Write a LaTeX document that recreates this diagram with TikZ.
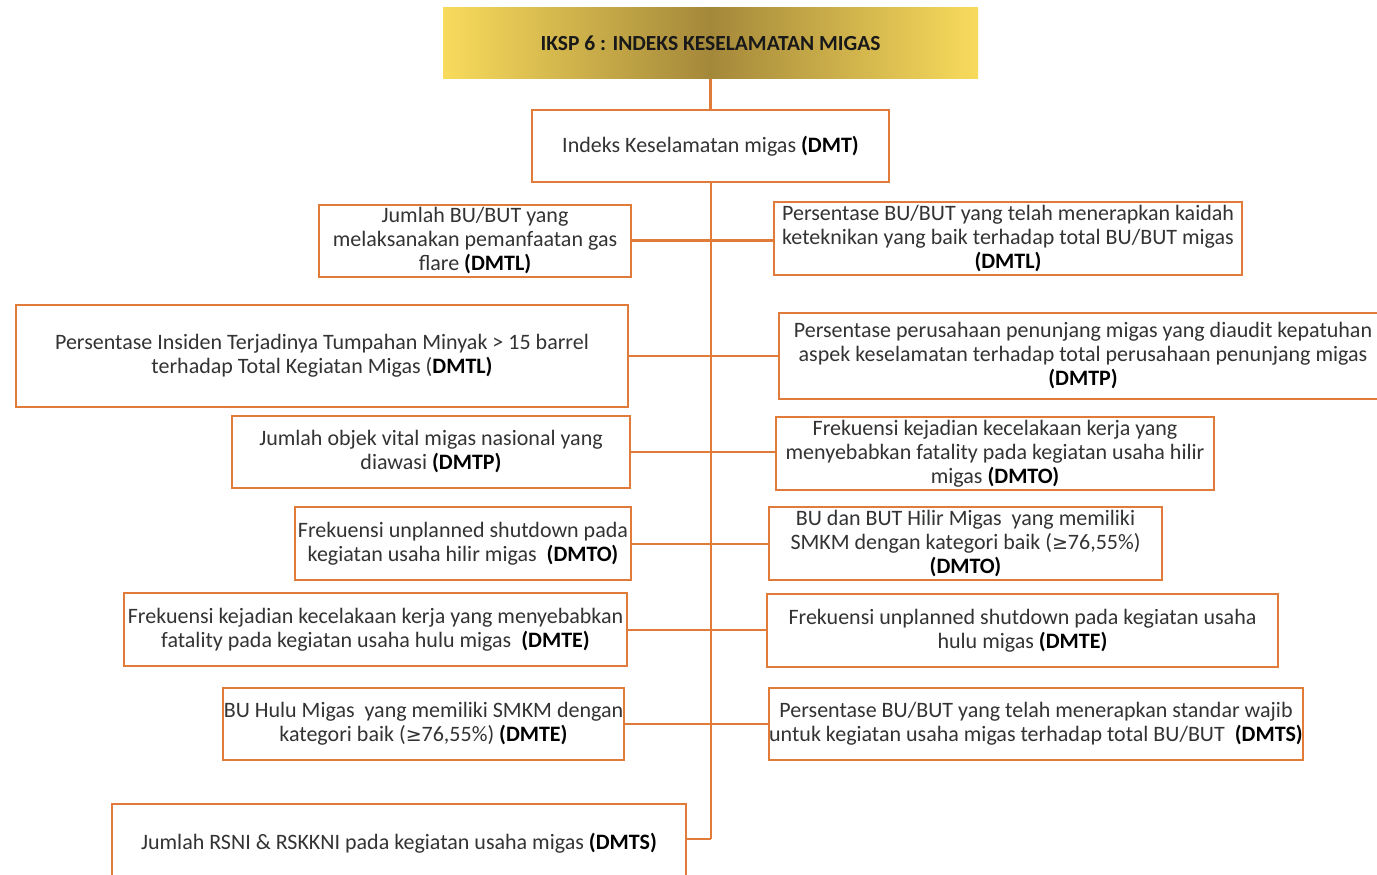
\documentclass[tikz,border=0pt]{standalone}
\usepackage{fontspec}
\setmainfont{Carlito}
\newfontfamily\symfont{DejaVu Sans}
\usetikzlibrary{calc}
\definecolor{linkorange}{HTML}{E07B39}
\definecolor{goldedge}{HTML}{F8DB5C}
\definecolor{goldmid}{HTML}{A4883A}
\definecolor{bodytext}{HTML}{333333}
\newcommand{\geqsym}{{\symfont\fontsize{19}{24}\selectfont ≥}}
\begin{document}
\begin{tikzpicture}[x=1pt,y=-1pt,
  box/.style={draw=linkorange, line width=2.5pt, fill=white, align=center,
    inner sep=0pt, text=bodytext,
    font=\fontsize{22}{24}\selectfont},
  link/.style={draw=linkorange, line width=2.5pt}]
\useasboundingbox (0,0) rectangle (1377,875);
\clip (0,0) rectangle (1377,875);
\fill[white] (0,0) rectangle (1377,875);

% title banner with a gold axis shading
\node[shading=axis, left color=goldedge, right color=goldedge, middle color=goldmid,
  minimum width=535, minimum height=71, inner sep=0pt,
  font=\bfseries\fontsize{21.5}{24}\selectfont, text=black!90]
  (title) at (710.5,43.5) {IKSP 6 : INDEKS KESELAMATAN MIGAS};

\node[box, minimum width=357, minimum height=72] (dmt) at (710.5,146)
  {Indeks Keselamatan migas \textcolor{black}{\textbf{(DMT)}}};

% left column
\node[box, minimum width=312, minimum height=72] (l1) at (475,241)
  {Jumlah BU/BUT yang\\ melaksanakan pemanfaatan gas\\ flare \textcolor{black}{\textbf{(DMTL)}}};
\node[box, minimum width=612, minimum height=102] (l2) at (322,356)
  {Persentase Insiden Terjadinya Tumpahan Minyak > 15 barrel\\ terhadap Total Kegiatan Migas (\textcolor{black}{\textbf{DMTL)}}};
\node[box, minimum width=398, minimum height=72] (l3) at (431,452)
  {Jumlah objek vital migas nasional yang\\ diawasi \textcolor{black}{\textbf{(DMTP)}}};
\node[box, minimum width=336, minimum height=73] (l4) at (463,543.5)
  {Frekuensi unplanned shutdown pada\\ kegiatan usaha hilir migas \ \textcolor{black}{\textbf{(DMTO)}}};
\node[box, minimum width=503, minimum height=73] (l5) at (375.5,629.5)
  {Frekuensi kejadian kecelakaan kerja yang menyebabkan\\ fatality pada kegiatan usaha hulu migas \ \textcolor{black}{\textbf{(DMTE)}}};
\node[box, minimum width=401, minimum height=72] (l6) at (423.5,724)
  {BU Hulu Migas \ yang memiliki SMKM dengan\\ kategori baik (\geqsym76,55\%) \textcolor{black}{\textbf{(DMTE)}}};
% the last box runs past the lower edge
\node[box, minimum width=574, minimum height=80] (l7) at (399,844)
  {\raisebox{6pt}{Jumlah RSNI \& RSKKNI pada kegiatan usaha migas \textcolor{black}{\textbf{(DMTS)}}}};

% right column
\node[box, minimum width=468, minimum height=73] (r1) at (1008,238.5)
  {Persentase BU/BUT yang telah menerapkan kaidah\\ keteknikan yang baik terhadap total BU/BUT migas\\ \textcolor{black}{\textbf{(DMTL)}}};
\node[box, minimum width=608, minimum height=86] (r2) at (1083,356)
  {Persentase perusahaan penunjang migas yang diaudit kepatuhan\\ aspek keselamatan terhadap total perusahaan penunjang migas\\ \textcolor{black}{\textbf{(DMTP)}}};
\node[box, minimum width=438, minimum height=73] (r3) at (995,453.5)
  {Frekuensi kejadian kecelakaan kerja yang\\ menyebabkan fatality pada kegiatan usaha hilir\\ migas \textcolor{black}{\textbf{(DMTO)}}};
\node[box, minimum width=393, minimum height=73] (r4) at (965.5,543.5)
  {BU dan BUT Hilir Migas \ yang memiliki\\ SMKM dengan kategori baik (\geqsym76,55\%)\\ \textcolor{black}{\textbf{(DMTO)}}};
\node[box, minimum width=511, minimum height=73] (r5) at (1022.5,630.5)
  {Frekuensi unplanned shutdown pada kegiatan usaha\\ hulu migas \textcolor{black}{\textbf{(DMTE)}}};
\node[box, minimum width=532, minimum height=72] (r6) at (1036,724)
  {Persentase BU/BUT yang telah menerapkan standar wajib\\ untuk kegiatan usaha migas terhadap total BU/BUT \ \textcolor{black}{\textbf{(DMTS)}}};

% junctions on the trunk
\coordinate (j1) at (711,240.5);
\coordinate (j2) at (711,356);
\coordinate (j3) at (711,452);
\coordinate (j4) at (711,544);
\coordinate (j5) at (711,630);
\coordinate (j6) at (711,724);
\coordinate (j7) at (711,839);

% connectors
\draw[link] (title.south) -- (dmt.north);
\draw[link] (dmt.south -| j1) -- (j7);
\draw[link] (j1 -| l1.east) -- (j1 -| r1.west);
\draw[link] (j2 -| l2.east) -- (j2 -| r2.west);
\draw[link] (j3 -| l3.east) -- (j3 -| r3.west);
\draw[link] (j4 -| l4.east) -- (j4 -| r4.west);
\draw[link] (j5 -| l5.east) -- (j5 -| r5.west);
\draw[link] (j6 -| l6.east) -- (j6 -| r6.west);
\draw[link] (j7 -| l7.east) -- (j7);
\end{tikzpicture}
\end{document}
